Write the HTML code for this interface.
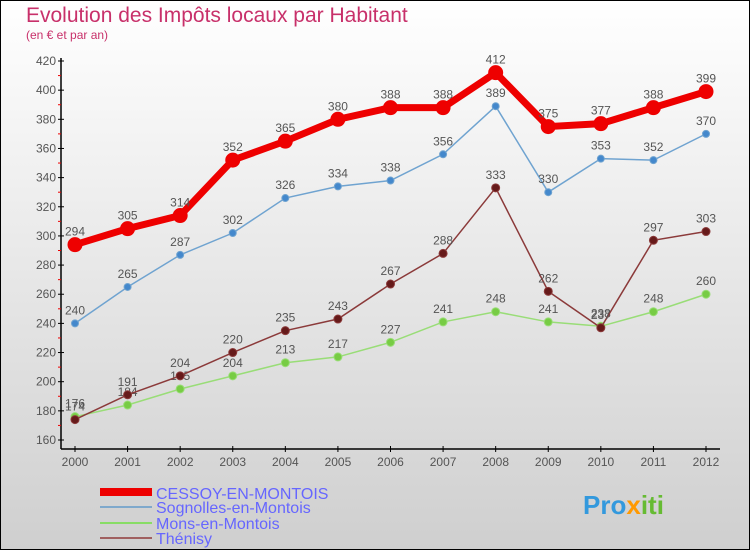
<!DOCTYPE html>
<html><head><meta charset="utf-8"><style>
body{margin:0}
#c{width:750px;height:550px;position:relative;overflow:hidden;font-family:"Liberation Sans",sans-serif}
</style></head><body>
<div id="c">
<svg id="s" width="750" height="550" xmlns="http://www.w3.org/2000/svg">
<defs><linearGradient id="bg" x1="0" y1="0" x2="0" y2="1"><stop offset="0" stop-color="#ffffff"/><stop offset="1" stop-color="#cfcfcf"/></linearGradient></defs>
<rect x="0.5" y="0.5" width="749" height="549" fill="url(#bg)" stroke="#000"/>
<text x="26" y="22" font-size="21" fill="#c8306a">Evolution des Impôts locaux par Habitant</text>
<text x="26" y="39" font-size="12" fill="#c8306a">(en € et par an)</text>
<g id="axes"></g><g id="series"></g>
<g>
<rect x="100" y="488" width="52" height="8" fill="#ee0000"/>
<text x="156" y="499" font-size="16" fill="#6666ff">CESSOY-EN-MONTOIS</text>
<line x1="100" y1="507" x2="152" y2="507" stroke="#7fa9cc" stroke-width="2"/>
<text x="156" y="513" font-size="16" fill="#6666ff">Sognolles-en-Montois</text>
<line x1="100" y1="523" x2="152" y2="523" stroke="#88dd66" stroke-width="2"/>
<text x="156" y="529" font-size="16" fill="#6666ff">Mons-en-Montois</text>
<line x1="100" y1="538" x2="152" y2="538" stroke="#a06060" stroke-width="2"/>
<text x="156" y="544" font-size="16" fill="#6666ff">Thénisy</text>
</g>
<text x="583" y="514" font-size="26" font-weight="bold" fill="#3399dd">Pro<tspan fill="#ff9900">x</tspan><tspan fill="#66bb33">iti</tspan></text>
</svg>
</div>
<script>
const years=[2000,2001,2002,2003,2004,2005,2006,2007,2008,2009,2010,2011,2012];
const yTicks=[160,180,200,220,240,260,280,300,320,340,360,380,400,420];
const cessoy=[294,305,314,352,365,380,388,388,412,375,377,388,399];
const sognolles=[240,265,287,302,326,334,338,356,389,330,353,352,370];
const mons=[176,184,195,204,213,217,227,241,248,241,238,248,260];
const thenisy=[174,191,204,220,235,243,267,288,333,262,237,297,303];
const NS="http://www.w3.org/2000/svg";
const X=i=>75+i*(706-75)/12;
const Y=v=>440-(v-160)*(440-61)/260;
function mk(t,a,p){const e=document.createElementNS(NS,t);for(const k in a)e.setAttribute(k,a[k]);p.appendChild(e);return e;}
const ax=document.getElementById('axes');
let l=mk('line',{x1:61,y1:58,x2:61,y2:449,stroke:'#000','stroke-width':1.5},ax);


l=mk('line',{x1:61,y1:449,x2:720,y2:449,stroke:'#000','stroke-width':1.5},ax);


yTicks.forEach((v,i)=>{
 mk('line',{x1:58,y1:Y(v),x2:64,y2:Y(v),stroke:'#000'},ax);
 if(i<yTicks.length-1) mk('line',{x1:58,y1:Y(v+10),x2:61,y2:Y(v+10),stroke:'#e00'},ax);
 const t=mk('text',{x:56,y:Y(v)+4,'font-size':12,'text-anchor':'end',fill:'#555'},ax);t.textContent=v;
 
 
});
years.forEach((y,i)=>{
 mk('line',{x1:X(i),y1:446,x2:X(i),y2:452,stroke:'#000'},ax);
 const t=mk('text',{x:X(i),y:466,'font-size':12,'text-anchor':'middle',fill:'#555'},ax);t.textContent=y;
 
 
});
const sg=document.getElementById('series');
function series(d,name,color,w,r,fill){
 const g=mk('g',{},sg);
 
 
 mk('polyline',{points:d.map((v,i)=>X(i)+','+Y(v)).join(' '),fill:'none',stroke:color,'stroke-width':w},g);
 d.forEach((v,i)=>{
  const c=mk('circle',{cx:X(i),cy:Y(v),r:r,fill:fill,stroke:color,'stroke-width':1},g);
  
  
  const t=mk('text',{x:X(i),y:Y(v)-9,'font-size':12,'text-anchor':'middle',fill:'#555'},g);t.textContent=v;
  
  
 });
}
series(mons,'mons','#99dd77',1.5,4,'#77cc44');
series(thenisy,'thenisy','#8b3a3a',1.5,4,'#661a1a');
series(sognolles,'sognolles','#6fa3d0',1.5,3.5,'#4488cc');
series(cessoy,'cessoy','#ee0000',7,7,'#ee0000');
</script>
</body></html>
